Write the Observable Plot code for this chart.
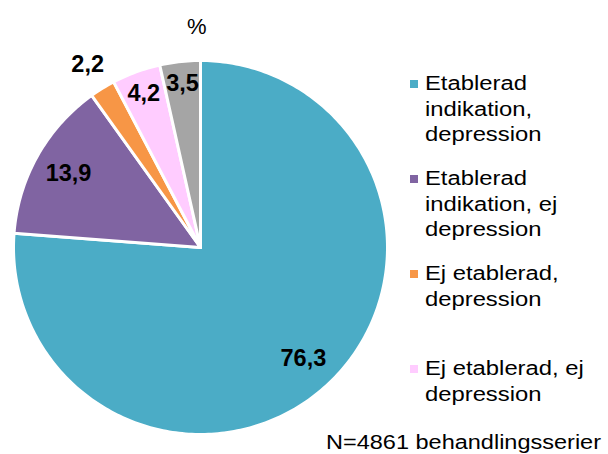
<!DOCTYPE html>
<html><head><meta charset="utf-8">
<script src="https://cdn.jsdelivr.net/npm/d3@7"></script>
<script src="https://cdn.jsdelivr.net/npm/@observablehq/plot@0.6"></script>
<style>
body{margin:0;background:#fff;font-family:"Liberation Sans",Arial,sans-serif;}
#wrap{position:relative;width:608px;height:454px;overflow:hidden;}
#wrap svg{position:absolute;left:0;top:0;}
.abs{position:absolute;white-space:nowrap;color:#000;}
#pct{left:187px;top:14px;font-size:22px;line-height:26px;}
#caption{left:326px;top:431px;font-size:20px;line-height:22px;transform:scaleX(1.175);transform-origin:0 0;}
#legend{position:absolute;left:410px;top:71px;}
.item{position:relative;height:95px;}
.sw{position:absolute;left:0;top:9px;width:8px;height:8px;}
.lt{position:absolute;left:15px;top:0;width:154px;font-size:20px;line-height:25.5px;transform:scaleX(1.19);transform-origin:0 0;}
</style></head><body><div id="wrap"></div><script>
const categories = ["Etablerad indikation, depression", "Etablerad indikation, ej depression", "Ej etablerad, depression", "Ej etablerad, ej depression", "Övrigt"];
const values = [76.3, 13.9, 2.2, 4.2, 3.5];
const colors = ["#4BACC6", "#8064A2", "#F79646", "#FFCCFF", "#A5A5A5"];
const legendCount = 4;
const title = "%";
const caption = "N=4861 behandlingsserier";

const slices = d3.pie().sort(null).value(d => d.value)(categories.map((c, i) => ({category: c, value: values[i]})));
const pts = [];
slices.forEach(s => {
  const c = s.data.category;
  pts.push({category: c, x: 0, y: 0});
  const n = Math.max(2, Math.ceil((s.endAngle - s.startAngle) / (Math.PI / 180)));
  for (let k = 0; k <= n; k++) {
    const a = s.startAngle + (s.endAngle - s.startAngle) * k / n;
    pts.push({category: c, x: Math.sin(a), y: Math.cos(a)});
  }
  pts.push({category: c, x: 0, y: 0});
});
const labelData = slices.map(s => {
  const v = s.data.value;
  const r = v < 3 ? 1.15 : v < 5 ? 0.88 : 0.81;
  const a = (s.startAngle + s.endAngle) / 2;
  return {x: r * Math.sin(a), y: r * Math.cos(a), text: v.toFixed(1).replace(".", ",")};
});

const plot = Plot.plot({
  width: 608, height: 454, margin: 0,
  style: {background: "transparent", fontFamily: "Liberation Sans, Arial, sans-serif"},
  x: {domain: [-200 / 187, 408 / 187], axis: null},
  y: {domain: [-207 / 187, 247 / 187], axis: null},
  color: {domain: categories, range: colors},
  marks: [
    Plot.line(pts, {x: "x", y: "y", z: "category", fill: "category", stroke: "white", strokeWidth: 3, strokeLinejoin: "round", curve: "linear"}),
    Plot.text(labelData, {x: "x", y: "y", text: "text", fontSize: 23.5, fontWeight: "bold", fill: "black"})
  ]
});
const wrap = document.getElementById("wrap");
wrap.appendChild(plot);
const color = plot.scale("color");

const t = document.createElement("div"); t.className = "abs"; t.id = "pct"; t.textContent = title; wrap.appendChild(t);
const cap = document.createElement("div"); cap.className = "abs"; cap.id = "caption"; cap.textContent = caption; wrap.appendChild(cap);
const lg = document.createElement("div"); lg.id = "legend"; wrap.appendChild(lg);
categories.slice(0, legendCount).forEach(c => {
  const it = document.createElement("div"); it.className = "item";
  const sw = document.createElement("div"); sw.className = "sw"; sw.style.background = color.apply(c);
  const lt = document.createElement("div"); lt.className = "lt"; lt.textContent = c; lt.style.whiteSpace = "normal";
  it.appendChild(sw); it.appendChild(lt); lg.appendChild(it);
});
</script></body></html>
